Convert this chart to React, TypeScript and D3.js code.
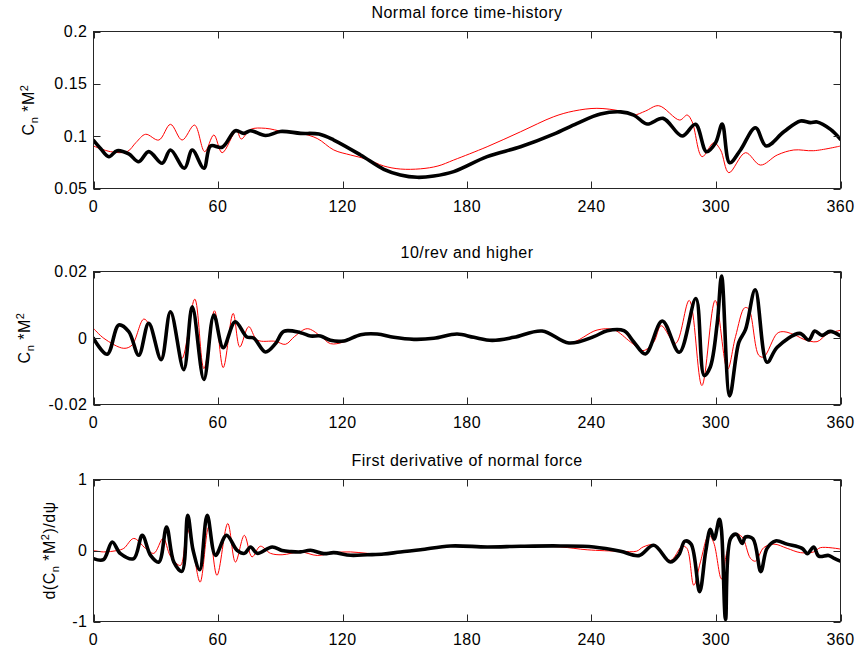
import React from "react";
import * as d3 from "d3";

// ---------- data (angle in deg, value) ----------
const xTicks = [0, 60, 120, 180, 240, 300, 360];

const normalMeasured: [number, number][] = [
  [0, 0.096], [3.5, 0.088], [7.4, 0.0804], [11.4, 0.0861], [17, 0.083], [21.8, 0.0756],
  [26.6, 0.0852], [33.1, 0.0741], [37.1, 0.0868], [43.8, 0.0693], [47.6, 0.0868],
  [53.2, 0.0693], [56.4, 0.0906], [62, 0.0894], [68.4, 0.1052], [72.4, 0.1027],
  [75.7, 0.1052], [82.9, 0.1006], [90.1, 0.1045], [99.8, 0.1027], [108.6, 0.102],
  [115.8, 0.0963], [128.7, 0.082], [139.9, 0.0683], [147.9, 0.0629], [156, 0.0607],
  [164, 0.0619], [173.6, 0.0661], [189.7, 0.0804], [205.8, 0.0899], [221.8, 0.102],
  [233.1, 0.1123], [244.3, 0.1211], [254, 0.1232], [260.4, 0.1202], [266.8, 0.1116],
  [274.5, 0.117], [283.7, 0.1001], [290.1, 0.1113], [295.4, 0.0852], [299.8, 0.0937],
  [303, 0.1116], [306.6, 0.0746], [311.8, 0.0868], [319, 0.1081], [324.2, 0.0906],
  [332.7, 0.1042], [340.7, 0.1145], [345.5, 0.1129], [348.7, 0.1136], [355.2, 0.1065],
  [360, 0.097],
];

const normalPredicted: [number, number][] = [
  [0, 0.0906], [8.2, 0.0852], [16.2, 0.0852], [20.5, 0.094], [25.1, 0.1018], [31.5, 0.0963],
  [37.1, 0.1113], [42.7, 0.0963], [48.7, 0.1106], [53.6, 0.0852], [58, 0.1011],
  [62, 0.0842], [68.9, 0.1052], [71.2, 0.0973], [75.7, 0.1065], [82.9, 0.1075],
  [91.7, 0.1042], [99.8, 0.1027], [107.8, 0.0978], [115.8, 0.0868], [123.9, 0.082],
  [131.9, 0.0779], [139.9, 0.0715], [147.9, 0.0686], [157.6, 0.0688], [166, 0.0715],
  [173.6, 0.0772], [189.7, 0.0899], [205.8, 0.1042], [221.8, 0.1186], [231.4, 0.124],
  [242.6, 0.1266], [254, 0.124], [260.4, 0.1202], [266, 0.124], [272.4, 0.1291],
  [282.5, 0.1154], [286.1, 0.1202], [288.5, 0.1138], [293.3, 0.0804], [298.9, 0.0937],
  [302.2, 0.0868], [306.2, 0.0651], [314.2, 0.0842], [321.4, 0.0724], [329.5, 0.082],
  [337.5, 0.0868], [347.1, 0.0861], [360, 0.0906],
];

const hfMeasured: [number, number][] = [
  [0, -0.0001], [6.6, -0.0049], [12.2, 0.0039], [17, 0.0019], [21.8, -0.0052],
  [26.6, 0.0044], [32.6, -0.0065], [37.1, 0.0079], [43.5, -0.0095], [47.6, 0.0094],
  [53.2, -0.0125], [58, 0.0069], [62.5, -0.0029], [68.3, 0.0049], [73.9, 0.0003],
  [77.2, 0], [82.9, -0.0042], [87.7, -0.0017], [91.7, 0.002], [99.8, 0.0016],
  [104.6, 0.0006], [109.4, 0.0006], [114.2, -0.0007], [120.6, -0.0009], [128.7, 0.001],
  [136.7, 0.0012], [144.7, 0.0002], [154.4, -0.0004], [164, -0.0001], [175.2, 0.0012],
  [183.3, 0.0002], [192.1, -0.0007], [202.6, 0.0002], [216.2, 0.0021], [229.1, -0.0015],
  [241.1, 0.0004], [247.6, 0.0022], [255.6, 0.0022], [260.4, -0.0012], [266, -0.0048],
  [274.1, 0.0051], [282.3, -0.0043], [290.3, 0.0119], [294.3, -0.0113], [297.2, -0.0088],
  [300.6, 0.0045], [302.7, 0.0186], [306.6, -0.0174], [311, -0.0013], [314.2, 0.0025],
  [318.9, 0.0145], [324.6, -0.0073], [329.5, -0.0028], [340.3, 0.0014], [344.7, -0.0006],
  [347.6, 0.0021], [351, 0.0008], [355, 0.002], [360, 0.0006],
];

const hfPredicted: [number, number][] = [
  [0, 0.0029], [5, -0.0001], [14.6, -0.0031], [18.6, -0.0021], [24.3, 0.0057],
  [29.1, 0.0009], [32.3, -0.0067], [37.1, 0.0074], [42.6, -0.0062], [48.8, 0.0117],
  [53.2, -0.0092], [58.3, 0.0082], [62.5, -0.0089], [67.3, 0.0074], [70.5, -0.0027],
  [74.8, 0.0034], [78.9, -0.0006], [87.7, -0.001], [92.5, -0.0019], [97, 0.0005],
  [103, 0.0028], [109.4, 0.0006], [114.2, -0.0017], [120.6, -0.0012], [128.7, 0.001],
  [136.7, 0.0012], [144.7, 0.0002], [154.4, -0.0004], [164, -0.0001], [175.2, 0.0012],
  [183.3, 0.0002], [192.1, -0.0007], [202.6, 0.0002], [216.2, 0.0021], [229.1, -0.0015],
  [242.7, 0.0024], [250.7, 0.0025], [258.8, -0.0012], [264.8, -0.0038], [270, -0.0012],
  [273.6, 0.0037], [280.5, -0.0016], [287.1, 0.0113], [293.2, -0.0143], [299.6, 0.0113],
  [305.5, -0.0095], [309.4, 0.0004], [313.8, 0.0091], [315.8, 0.0087], [320.6, -0.0052],
  [323, -0.0057], [329.5, 0.0014], [332.7, 0.0019], [339.1, 0.0006], [342.3, -0.0004],
  [348.7, -0.0011], [353.6, 0.0012], [360, 0.0023],
];

const derivMeasured: [number, number][] = [
  [0, -0.114], [4.8, -0.128], [9, 0.12], [13, -0.044], [19.4, -0.114], [23.5, 0.214],
  [27.5, -0.068], [31.5, -0.163], [35.2, 0.331], [38.7, -0.163], [42.6, -0.294],
  [45.4, 0.496], [48, 0.003], [51.2, -0.27], [54.8, 0.496], [58.8, -0.068], [64.1, 0.214],
  [69.2, 0.003], [72.8, -0.04], [75.7, 0.05], [78.9, -0.04], [86.1, 0.05], [90.9, 0],
  [95, -0.015], [99.8, -0.02], [104.6, 0.003], [111, -0.044], [115.8, -0.03],
  [123.9, -0.068], [131.9, -0.06], [139.9, -0.05], [147.9, -0.02], [157.6, 0.01],
  [172, 0.064], [189.7, 0.05], [205.8, 0.06], [225, 0.064], [241.1, 0.05], [254, -0.01],
  [262.8, -0.072], [270, 0.074], [278, -0.163], [282.1, -0.06], [285, 0.132], [288, 0.09],
  [292.1, -0.58], [295, -0.02], [297.3, 0.3], [299.1, 0.16], [301.6, 0.44], [302.6, 0.3],
  [304.6, -0.97], [307, 0.168], [309.8, 0.23], [312.6, 0.1], [314.2, 0.19], [317.8, 0.165],
  [321.6, -0.297], [324.6, 0.03], [328.7, 0.135], [334.3, 0.09], [341.5, 0.03],
  [344, -0.044], [347.1, 0.05], [349.5, -0.08], [354.3, -0.07], [357, -0.11], [360, -0.15],
];

const derivPredicted: [number, number][] = [
  [0, 0], [4.8, -0.02], [11.4, 0], [14.6, 0.03], [19.4, 0.17], [25.1, 0.03], [29.1, -0.04],
  [33.6, 0.17], [37.1, -0.08], [41.9, -0.21], [45.1, 0.31], [48, 0.0], [51.4, -0.445],
  [55.5, 0.33], [59.5, -0.35], [64.7, 0.38], [68.4, -0.163], [72.7, 0.214], [76.4, -0.09],
  [80.4, 0.06], [85.3, -0.04], [90.9, -0.06], [99.8, -0.02], [107.8, -0.07],
  [115.8, -0.03], [123.9, -0.02], [131.9, -0.04], [139.9, -0.05], [147.9, -0.02],
  [157.6, 0.01], [172, 0.064], [189.7, 0.05], [205.8, 0.06], [225, 0.05], [237.9, 0.01],
  [254, -0.01], [261.7, -0.01], [264.9, 0.05], [270.6, 0.08], [278, -0.14], [283.7, 0.06],
  [286, 0.03], [289.3, -0.49], [292.5, -0.16], [296.5, 0.22], [298.9, 0.11],
  [302.6, -0.4], [305.3, -0.02], [309, 0.238], [312.6, 0.19], [316.6, -0.11],
  [319, -0.15], [323, 0.04], [327.9, 0.09], [334.3, 0.03], [340.7, -0.03], [347.1, -0.02],
  [350.3, 0.04], [360, 0.02],
];

const panel1YTicks = [0.05, 0.1, 0.15, 0.2];
const panel2YTicks = [-0.02, 0, 0.02];
const panel3YTicks = [-1, 0, 1];

const titles = ["Normal force time-history", "10/rev and higher", "First derivative of normal force"];

// ---------- layout ----------
const W = 856;
const H = 655;
const LEFT = 93.5;
const RIGHT = 840.5;
const FONT = "'Liberation Sans', Arial, Helvetica, sans-serif";
const FS = 16;
const LS = 0.5;

type PanelProps = {
  top: number;
  bottom: number;
  yDomain: [number, number];
  yTicks: number[];
  title: string;
  red: [number, number][];
  black: [number, number][];
  ylabel: React.ReactNode;
  ylabelX: number;
  clipId: string;
};

function Panel(p: PanelProps) {
  const x = d3.scaleLinear().domain([0, 360]).range([LEFT, RIGHT]);
  const y = d3.scaleLinear().domain(p.yDomain).range([p.bottom, p.top]);
  const line = d3
    .line<[number, number]>()
    .x((d) => x(d[0]))
    .y((d) => y(d[1]))
    .curve(d3.curveCatmullRom.alpha(0.5));
  const tl = 7;
  const midY = (p.top + p.bottom) / 2;
  const fmt = (v: number) => String(v);
  const txt = { fontSize: FS, fontFamily: FONT, fill: "#000", letterSpacing: LS };
  return (
    <g>
      <defs>
        <clipPath id={p.clipId}>
          <rect x={LEFT} y={p.top} width={RIGHT - LEFT} height={p.bottom - p.top} />
        </clipPath>
      </defs>
      <g clipPath={`url(#${p.clipId})`}>
        <path d={line(p.red) || ""} fill="none" stroke="#ff0000" strokeWidth={1} />
        <path
          d={line(p.black) || ""}
          fill="none"
          stroke="#000"
          strokeWidth={3.6}
          strokeLinejoin="round"
          strokeLinecap="round"
        />
      </g>
      <rect
        x={LEFT}
        y={p.top}
        width={RIGHT - LEFT}
        height={p.bottom - p.top}
        fill="none"
        stroke="#262626"
        strokeWidth={1}
      />
      {xTicks.map((t) => (
        <g key={"x" + t}>
          <line x1={Math.round(x(t)) + 0.5} x2={Math.round(x(t)) + 0.5} y1={p.bottom} y2={p.bottom - tl} stroke="#262626" />
          <line x1={Math.round(x(t)) + 0.5} x2={Math.round(x(t)) + 0.5} y1={p.top} y2={p.top + tl} stroke="#262626" />
          <text x={x(t)} y={p.bottom + 23.5} textAnchor="middle" {...txt}>
            {t}
          </text>
        </g>
      ))}
      {p.yTicks.map((t) => (
        <g key={"y" + t}>
          <line x1={LEFT} x2={LEFT + tl} y1={Math.round(y(t)) + 0.5} y2={Math.round(y(t)) + 0.5} stroke="#262626" />
          <line x1={RIGHT} x2={RIGHT - tl} y1={Math.round(y(t)) + 0.5} y2={Math.round(y(t)) + 0.5} stroke="#262626" />
          <text x={LEFT - 6} y={y(t) + 5.5} textAnchor="end" {...txt}>
            {fmt(t)}
          </text>
        </g>
      ))}
      <text x={(LEFT + RIGHT) / 2} y={p.top - 14} textAnchor="middle" {...txt}>
        {p.title}
      </text>
      <text
        transform={`translate(${p.ylabelX},${midY}) rotate(-90)`}
        textAnchor="middle"
        {...txt}
      >
        {p.ylabel}
      </text>
    </g>
  );
}

const cnLabel = (
  <>
    <tspan>C</tspan>
    <tspan dy={4} fontSize={11}>n</tspan>
    <tspan dy={-4}> *M</tspan>
    <tspan dy={-6} fontSize={11}>2</tspan>
  </>
);

const derivLabel = (
  <>
    <tspan>d(C</tspan>
    <tspan dy={4} fontSize={11}>n</tspan>
    <tspan dy={-4}> *M</tspan>
    <tspan dy={-6} fontSize={11}>2</tspan>
    <tspan dy={6}>)/dψ</tspan>
  </>
);

export default function App() {
  return (
    <svg
      width={W}
      height={H}
      style={{ position: "absolute", left: 0, top: 0, background: "#fff" }}
    >
      <rect x={0} y={0} width={W} height={H} fill="#fff" />
      <Panel
        top={31.5}
        bottom={188.5}
        yDomain={[0.05, 0.2]}
        yTicks={panel1YTicks}
        title={titles[0]}
        red={normalPredicted}
        black={normalMeasured}
        ylabel={cnLabel}
        ylabelX={34}
        clipId="c1"
      />
      <Panel
        top={271.5}
        bottom={404.5}
        yDomain={[-0.02, 0.02]}
        yTicks={panel2YTicks}
        title={titles[1]}
        red={hfPredicted}
        black={hfMeasured}
        ylabel={cnLabel}
        ylabelX={30}
        clipId="c2"
      />
      <Panel
        top={479.5}
        bottom={621.5}
        yDomain={[-1, 1]}
        yTicks={panel3YTicks}
        title={titles[2]}
        red={derivPredicted}
        black={derivMeasured}
        ylabel={derivLabel}
        ylabelX={55}
        clipId="c3"
      />
    </svg>
  );
}
